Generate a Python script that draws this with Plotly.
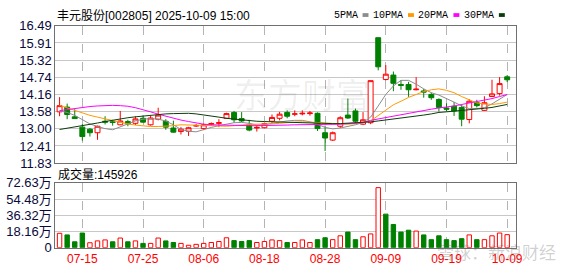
import plotly.graph_objects as go

W, H = 578, 276

dates = ["07-10", "07-11", "07-14", "07-15", "07-16", "07-17", "07-18", "07-21", "07-22", "07-23",
         "07-24", "07-25", "07-28", "07-29", "07-30", "07-31", "08-01", "08-04", "08-05", "08-06",
         "08-07", "08-08", "08-11", "08-12", "08-13", "08-14", "08-15", "08-18", "08-19", "08-20",
         "08-21", "08-22", "08-25", "08-26", "08-27", "08-28", "08-29", "09-01", "09-02", "09-03",
         "09-04", "09-05", "09-08", "09-09", "09-10", "09-11", "09-12", "09-15", "09-16", "09-17",
         "09-18", "09-19", "09-22", "09-23", "09-24", "09-25", "09-26", "09-29", "09-30", "10-09"]

opens = [13.57, 13.73, 13.40, 13.05, 12.98, 12.86, 13.25, 13.23, 13.13, 13.24,
         13.18, 13.35, 13.13, 13.32, 13.25, 13.02, 12.90, 12.91, 13.09, 13.00,
         13.15, 13.18, 13.35, 13.55, 13.34, 13.14, 13.02, 13.03, 13.25, 13.35,
         13.55, 13.49, 13.50, 13.51, 13.52, 12.86, 12.61, 13.08, 13.46, 13.60,
         13.15, 13.20, 16.09, 14.67, 14.82, 14.50, 14.50, 14.32, 14.28, 14.16,
         13.99, 13.70, 13.76, 13.72, 13.31, 13.88, 13.62, 14.09, 14.19, 14.76]
highs = [14.07, 13.85, 13.66, 13.15, 13.02, 13.10, 13.42, 13.30, 13.60, 13.30,
         13.42, 13.45, 13.43, 13.71, 13.32, 13.27, 13.05, 13.06, 13.16, 13.17,
         13.21, 13.32, 13.54, 13.60, 13.56, 13.30, 13.12, 13.19, 13.48, 13.57,
         13.62, 13.62, 13.62, 13.60, 13.55, 13.10, 12.90, 13.42, 14.02, 13.68,
         13.56, 14.63, 16.09, 15.16, 14.94, 14.65, 14.59, 14.75, 14.35, 14.22,
         14.03, 13.86, 13.90, 13.82, 14.00, 13.98, 14.10, 14.66, 14.75, 14.82]
lows = [13.42, 13.32, 13.33, 12.59, 12.73, 12.62, 13.14, 13.10, 13.12, 13.08,
        13.12, 13.20, 13.10, 13.28, 12.96, 12.86, 12.80, 12.75, 13.06, 12.95,
        13.10, 13.05, 13.33, 13.20, 13.22, 12.91, 12.90, 13.01, 13.20, 13.28,
        13.35, 13.42, 13.45, 13.44, 12.92, 12.24, 12.58, 13.02, 13.33, 13.18,
        13.12, 13.15, 14.98, 14.64, 14.27, 14.32, 14.08, 14.30, 14.05, 13.98,
        13.58, 13.58, 13.43, 13.08, 13.18, 13.72, 13.60, 14.08, 14.12, 14.58]
closes = [13.78, 13.48, 13.34, 12.73, 12.86, 13.08, 13.22, 13.21, 13.26, 13.16,
          13.33, 13.22, 13.36, 13.46, 13.05, 12.88, 12.98, 13.03, 13.10, 13.13,
          13.17, 13.20, 13.51, 13.30, 13.26, 12.95, 13.04, 13.17, 13.38, 13.49,
          13.42, 13.50, 13.52, 13.53, 13.00, 12.68, 12.86, 13.37, 13.36, 13.25,
          13.30, 14.63, 15.10, 14.85, 14.54, 14.47, 14.32, 14.34, 14.24, 14.05,
          13.72, 13.66, 13.60, 13.32, 13.93, 13.78, 13.88, 14.18, 14.53, 14.66]

volumes = [161000, 143000, 66000, 164000, 55000, 76000, 87000, 66000, 108000, 66000,
           76000, 48000, 48000, 108000, 76000, 58000, 48000, 27000, 37000, 48000,
           58000, 69000, 111000, 79000, 69000, 79000, 58000, 69000, 87000, 79000,
           58000, 58000, 87000, 58000, 90000, 111000, 90000, 133000, 175000, 90000,
           122000, 154000, 673000, 376000, 260000, 175000, 196000, 186000, 143000, 90000,
           133000, 90000, 79000, 101000, 143000, 90000, 90000, 133000, 164000, 145926]

ma5 = [13.60, 13.55, 13.45, 13.31, 13.16, 13.07, 13.00, 12.96, 13.07, 13.16,
       13.26, 13.32, 13.34, 13.32, 13.26, 13.13, 12.97, 12.91, 12.89, 12.97,
       13.04, 13.10, 13.15, 13.20, 13.21, 13.18, 13.12, 13.13, 13.18, 13.23,
       13.26, 13.28, 13.28, 13.23, 13.15, 13.04, 12.99, 13.02, 13.07, 13.13,
       13.21, 13.39, 13.77, 14.16, 14.45, 14.64, 14.64, 14.51, 14.35, 14.22,
       14.14, 14.03, 13.90, 13.77, 13.68, 13.68, 13.71, 13.84, 14.00, 14.16]
ma10 = [13.79, 13.70, 13.61, 13.53, 13.45, 13.39, 13.33, 13.26, 13.20, 13.16,
        13.12, 13.09, 13.07, 13.07, 13.08, 13.10, 13.13, 13.13, 13.12, 13.11,
        13.10, 13.09, 13.08, 13.10, 13.13, 13.14, 13.15, 13.15, 13.16, 13.18,
        13.21, 13.22, 13.23, 13.23, 13.21, 13.19, 13.17, 13.15, 13.15, 13.17,
        13.20, 13.26, 13.45, 13.65, 13.81, 13.93, 14.06, 14.16, 14.26, 14.32,
        14.35, 14.30, 14.22, 14.09, 13.97, 13.87, 13.84, 13.82, 13.85, 13.90]
ma20 = [13.61, 13.65, 13.69, 13.72, 13.75, 13.77, 13.79, 13.79, 13.78, 13.76,
        13.71, 13.65, 13.57, 13.49, 13.42, 13.35, 13.29, 13.24, 13.19, 13.15,
        13.13, 13.12, 13.12, 13.11, 13.11, 13.10, 13.10, 13.10, 13.10, 13.11,
        13.12, 13.13, 13.13, 13.14, 13.14, 13.14, 13.15, 13.15, 13.17, 13.18,
        13.20, 13.28, 13.33, 13.38, 13.43, 13.48, 13.53, 13.57, 13.61, 13.66,
        13.70, 13.73, 13.77, 13.82, 13.87, 13.91, 13.96, 14.02, 14.09, 14.16]
ma30 = [12.97, 13.01, 13.05, 13.10, 13.14, 13.19, 13.24, 13.29, 13.33, 13.37,
        13.40, 13.43, 13.46, 13.48, 13.50, 13.51, 13.52, 13.52, 13.50, 13.47,
        13.43, 13.39, 13.35, 13.32, 13.29, 13.27, 13.25, 13.24, 13.23, 13.22,
        13.21, 13.20, 13.19, 13.19, 13.18, 13.17, 13.17, 13.17, 13.18, 13.19,
        13.21, 13.23, 13.26, 13.29, 13.32, 13.35, 13.38, 13.42, 13.46, 13.50,
        13.55, 13.57, 13.59, 13.61, 13.63, 13.66, 13.69, 13.72, 13.77, 13.82]

price_ticktext = ["11.83", "12.41", "13.00", "13.58", "14.16", "14.74", "15.32", "15.91", "16.49"]
vol_ticktext = ["0", "18.16万", "36.32万", "54.48万", "72.63万"]
vol_tickvals = [0, 181600, 363200, 544800, 726300]
date_ticks = ["07-15", "07-25", "08-06", "08-18", "08-28", "09-09", "09-19", "10-09"]

title_text = "丰元股份[002805] 2025-10-09 15:00"
vol_label = "成交量:145926"
ma_names = ["5PMA", "10PMA", "20PMA", "30PMA"]

RED = "#ff0000"
GREEN = "#008000"
MA_COLORS = ["#8c8c8c", "#ff9900", "#ff00ff", "#0b3d0b"]
AXIS_LINE = "#707070"
HGRID = "#c8c8c8"
VGRID = "#b4b4b4"
LABEL = "#0a0a3a"

x = list(range(len(dates)))
tick_idx = [dates.index(d) for d in date_ticks]
price_tickvals = [float(t) for t in price_ticktext]


def px(v):
    return v / W


def py(v):
    return 1 - v / H


fig = go.Figure()

fig.add_trace(go.Candlestick(
    x=x, open=opens, high=highs, low=lows, close=closes,
    increasing=dict(line=dict(color=RED, width=1), fillcolor="white"),
    decreasing=dict(line=dict(color=GREEN, width=1), fillcolor=GREEN),
    whiskerwidth=0, xaxis="x", yaxis="y", hoverinfo="skip"))

for vals, col in zip([ma5, ma10, ma20, ma30], MA_COLORS):
    fig.add_trace(go.Scatter(x=x, y=vals, mode="lines", line=dict(color=col, width=1),
                             xaxis="x", yaxis="y", hoverinfo="skip"))

up = [closes[0] >= opens[0]] + [closes[i] >= closes[i - 1] for i in range(1, len(closes))]
fig.add_trace(go.Bar(
    x=x, y=volumes, width=0.58,
    marker=dict(color=["white" if u else GREEN for u in up],
                line=dict(color=[RED if u else GREEN for u in up], width=1)),
    xaxis="x2", yaxis="y2", hoverinfo="skip"))

xdom = [px(56), px(522)]
xr = [-0.56, 60.12]
common_x = dict(domain=xdom, range=xr, tickmode="array", tickvals=tick_idx,
                showgrid=True, gridcolor=VGRID, griddash="dash", gridwidth=1,
                showline=True, mirror=True, linecolor=AXIS_LINE, linewidth=1,
                zeroline=False, ticks="", fixedrange=True)
common_y = dict(showgrid=True, gridcolor=HGRID, gridwidth=1, showline=True, mirror=True,
                linecolor=AXIS_LINE, linewidth=1, zeroline=False, ticks="",
                tickfont=dict(family="Liberation Sans, Arial, Noto Sans CJK SC", size=13, color=LABEL),
                fixedrange=True)

fig.update_layout(
    width=W, height=H, margin=dict(l=0, r=0, t=0, b=0),
    paper_bgcolor="white", plot_bgcolor="white", showlegend=False, hovermode=False,
    boxgap=0.35, boxgroupgap=0,
    xaxis=dict(common_x, anchor="y", showticklabels=False, rangeslider=dict(visible=False)),
    yaxis=dict(common_y, anchor="x", domain=[py(165), py(20)], range=[11.83, 16.49],
               tickmode="array", tickvals=price_tickvals, ticktext=price_ticktext),
    xaxis2=dict(common_x, anchor="y2", matches="x", ticktext=date_ticks, showticklabels=True,
                tickfont=dict(family="Liberation Sans, Arial", size=12, color=RED)),
    yaxis2=dict(common_y, anchor="x2", domain=[py(254.5), py(186)], range=[0, 726300],
                tickmode="array", tickvals=vol_tickvals, ticktext=vol_ticktext),
)

ann = []
ann.append(dict(text=title_text, x=px(56), y=py(9), xref="paper", yref="paper",
                xanchor="left", yanchor="middle", showarrow=False,
                font=dict(family="Liberation Sans, Noto Sans CJK SC", size=12, color="black")))
ann.append(dict(text=vol_label, x=px(57), y=py(177), xref="paper", yref="paper",
                xanchor="left", yanchor="middle", showarrow=False,
                font=dict(family="Liberation Sans, Noto Sans CJK SC", size=12, color="black")))
legend_right = [364, 410, 456, 502]
shapes = []
for name, col, r in zip(ma_names, MA_COLORS, legend_right):
    ann.append(dict(text=name, x=px(r), y=py(9), xref="paper", yref="paper",
                    xanchor="right", yanchor="middle", showarrow=False,
                    font=dict(family="Liberation Mono, Courier New", size=10, color="black")))
    shapes.append(dict(type="rect", xref="paper", yref="paper",
                       x0=px(r + 3), x1=px(r + 9), y0=py(10.5), y1=py(6.5),
                       fillcolor=col, line=dict(width=0)))
# watermarks
ann.append(dict(text="东方财富", x=px(306), y=py(92), xref="paper", yref="paper",
                xanchor="center", yanchor="middle", showarrow=False,
                font=dict(family="Noto Sans CJK SC", size=34, color="rgba(0,0,0,0.07)")))
ann.append(dict(text="雪球：新浪财经", x=px(503), y=py(259), xref="paper", yref="paper",
                xanchor="center", yanchor="middle", showarrow=False,
                font=dict(family="Noto Sans CJK SC", size=17, color="rgba(90,90,90,0.28)")))

fig.update_layout(annotations=ann, shapes=shapes)
fig.write_html("out.html")
